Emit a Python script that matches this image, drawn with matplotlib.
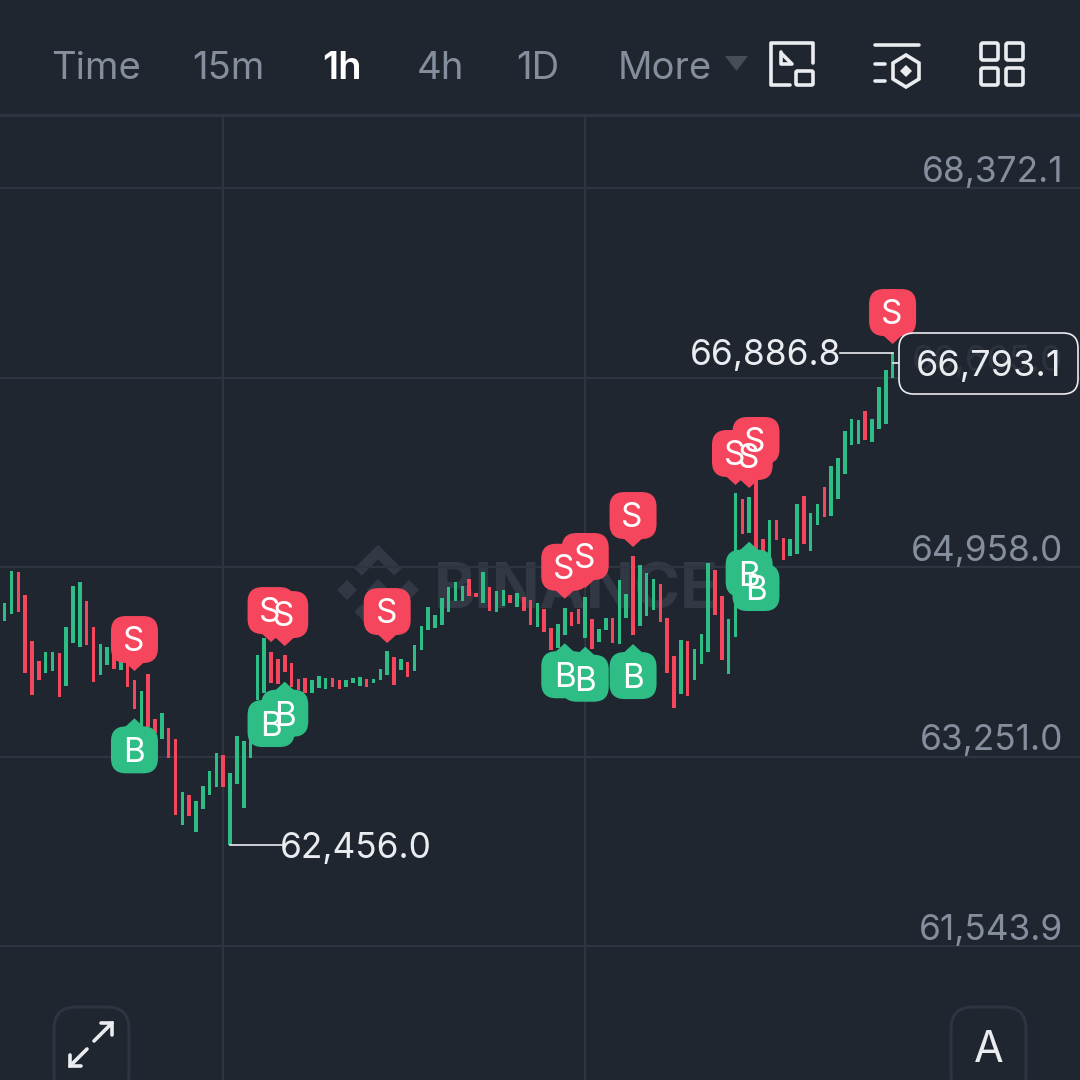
import matplotlib
matplotlib.use('Agg')
import matplotlib.pyplot as plt
from matplotlib.patches import FancyBboxPatch, Polygon, Rectangle

plt.rcParams['font.family'] = ['Inter', 'DejaVu Sans']

# candle range, one entry per 1h candle
high = [64631, 64925, 64910, 64706, 64294, 64114, 64190, 64195, 64181, 64415,
        64784, 64826, 64649, 64415, 64267, 64237, 64181, 64150, 64091, 63940,
        63841, 63994, 63586, 63646, 63508, 63406, 62928, 62904, 62853, 62983,
        63118, 63280, 63264, 63100, 63438, 63388, 63400, 64163, 64321, 64195,
        64132, 64165, 64091, 63946, 63955, 63943, 63979, 63958, 63955, 63937,
        63940, 63961, 63967, 63949, 63949, 64036, 64201, 64145, 64129, 64100,
        64253, 64424, 64600, 64528, 64679, 64781, 64820, 64787, 64847, 64721,
        64910, 64778, 64739, 64748, 64706, 64724, 64685, 64661, 64634, 64577,
        64406, 64447, 64591, 64555, 64577, 64690, 64490, 64402, 64496, 64496,
        64841, 64715, 65057, 64973, 64904, 64850, 64802, 64496, 64154, 64300,
        64289, 64217, 64352, 64997, 64931, 64694, 64492, 65622, 65571, 65586,
        65771, 65210, 65379, 65379, 65219, 65208, 65523, 65598, 65444, 65528,
        65676, 65868, 65937, 66183, 66291, 66285, 66366, 66291, 66579, 66735,
        66886.8]
low = [64474, 64535, 64555, 64000, 63808, 63937, 64006, 64021, 63784, 63886,
       64271, 64240, 64258, 63925, 63988, 64078, 64042, 64030, 63880, 63679,
       63519, 63519, 63460, 63411, 63240, 62727, 62634, 62718, 62568, 62775,
       62904, 62979, 62979, 62456, 63006, 62784, 63240, 63760, 63820, 63916,
       63901, 64015, 63880, 63850, 63826, 63826, 63865, 63862, 63874, 63859,
       63877, 63913, 63889, 63877, 63916, 63940, 63988, 63892, 64027, 63964,
       64024, 64210, 64390, 64409, 64438, 64550, 64649, 64649, 64699, 64690,
       64634, 64562, 64553, 64609, 64631, 64598, 64564, 64436, 64415, 64375,
       64210, 64226, 64348, 64427, 64445, 64318, 64217, 64282, 64393, 64276,
       64267, 64501, 64345, 64429, 64514, 64571, 64463, 64000, 63685, 63814,
       63799, 63937, 64084, 64192, 64523, 64118, 63991, 64330, 65255, 65269,
       65111, 65093, 65051, 65201, 65021, 65060, 65075, 65165, 65102, 65339,
       65411, 65415, 65568, 65796, 66060, 66069, 66105, 66081, 66201, 66249,
       66663]
direction = ('GGRRRRGGRG' 'GGRRGGRGRR' 'GRRGRRGRGG' 'GGRGGGGGGR' 'RRRRRGGGRR'
             'GGGRGGGRGR' 'GGGGGGGGRR' 'GRGGRGRRGR' 'RGGRRGRGGR' 'GGRGGGRRRG'
             'RGGGRRGGRG' 'RRGRRGGRGG' 'RGGGGGRGGGG')

sell_idx = [19, 39, 41, 56, 82, 85, 92, 107, 109, 110, 130]
sell_price = [64021, 64282, 64246, 64273, 64672, 64769, 65138, 65697, 65670, 65814, 66967]
buy_idx = [19, 39, 41, 82, 85, 92, 109, 110]
buy_price = [63595, 63832, 63925, 64271, 64240, 64264, 65186, 65057]

grid_prices = [68372.1, 66665.0, 64958.0, 63251.0, 61543.9]
grid_idx = [32, 85]
last_price = 66793.1
intervals = ['Time', '15m', '1h', '4h', '1D', 'More']
interval_x = [51, 192, 322, 417, 516, 618]

BG = '#1f2630'
GRID = '#2e3541'
GREEN = '#2ebd85'
RED = '#f6465d'
WHITE = '#eaecef'
GREY = '#848e9c'
WATER = '#323945'

fig = plt.figure(figsize=(10.8, 10.8), dpi=100, facecolor=BG)

# pixel axes under the candles (watermark), data axes, pixel axes on top (ui)
bg = fig.add_axes([0, 0, 1, 1], zorder=0)
ax = fig.add_axes([0, 0, 1, 1], zorder=1)
ui = fig.add_axes([0, 0, 1, 1], zorder=2)
for a in (bg, ui):
    a.set_xlim(0, 1080)
    a.set_ylim(1080, 0)
    a.axis('off')
bg.set_facecolor(BG)
ax.patch.set_alpha(0)
ax.set_xlim(-0.688, 157.44)
ax.set_ylim(60337, 70066)
for s in ax.spines.values():
    s.set_visible(False)
ax.set_xticks([])
ax.set_yticks([])

# watermark
for cx, cy, r in [(347, 590, 10), (409, 590, 10), (378, 590, 11)]:
    bg.add_patch(Polygon([(cx - r, cy), (cx, cy - r), (cx + r, cy), (cx, cy + r)], color=WATER, lw=0))
bg.plot([358, 378, 398], [572, 552, 572], color=WATER, lw=7.5, solid_joinstyle='miter', solid_capstyle='butt')
bg.plot([358, 378, 398], [608, 628, 608], color=WATER, lw=7.5, solid_joinstyle='miter', solid_capstyle='butt')
bg.text(434, 592, 'BINANCE', color=WATER, fontsize=45, fontweight='bold', ha='left', va='center')

# grid and price scale
for p, lab in zip(grid_prices, ['68,372.1', '66,665.0', '64,958.0', '63,251.0', '61,543.9']):
    ax.axhline(p, color=GRID, lw=1.6, zorder=1)
    ax.annotate(lab, xy=(1063 / 1080, p), xycoords=ax.get_yaxis_transform(), xytext=(0, 15 * 0.72 + 0.5),
                textcoords='offset points', ha='right', va='center', color=GREY, fontsize=25.4, zorder=1)
for i in grid_idx:
    ax.axvline(i, ymin=0, ymax=1 - 116 / 1080, color=GRID, lw=1.6, zorder=1)

# candles
colors = [GREEN if d == 'G' else RED for d in direction]
idx = list(range(len(high)))
heights = [h - l for h, l in zip(high, low)]
ax.bar(idx, heights, bottom=low, width=0.52, color=colors, lw=0, zorder=2)


def to_px(i, p):
    x, y = ax.transData.transform((i, p))
    return x, 1080 - y


def marker(i, p, kind):
    x, tip = to_px(i, p)
    col = RED if kind == 'S' else GREEN
    sign = -1 if kind == 'S' else 1
    cy = tip + sign * 31.5
    edge = tip + sign * 9
    ui.add_patch(FancyBboxPatch((x - 23.5, cy - 23.5), 47, 47, boxstyle='round,pad=0,rounding_size=15',
                                fc=col, ec='none', zorder=3))
    ui.add_patch(Polygon([(x - 12, edge + sign * 2), (x, tip), (x + 12, edge + sign * 2)], fc=col, ec='none', zorder=3))


for i, p in zip(sell_idx, sell_price):
    marker(i, p, 'S')
for i, p in zip(buy_idx, buy_price):
    marker(i, p, 'B')
for i, p in zip(sell_idx, sell_price):
    x, tip = to_px(i, p)
    ui.text(x - 1, tip - 29, 'S', color='white', fontsize=24, ha='center', va='center', zorder=4)
for i, p in zip(buy_idx, buy_price):
    x, tip = to_px(i, p)
    ui.text(x, tip + 35, 'B', color='white', fontsize=24, ha='center', va='center', zorder=4)

# high / low labels
lo_i = low.index(min(low))
hi_i = high.index(max(high))
x, y = to_px(lo_i, min(low))
ui.plot([x, 282], [y, y], color=WHITE, lw=1.2, zorder=3)
ui.text(280, y + 4, f'{min(low):,.1f}', color=WHITE, fontsize=25.4, ha='left', va='center', zorder=4)
x, y = to_px(hi_i, max(high))
ui.plot([840, x], [y, y], color=WHITE, lw=1.2, zorder=3)
ui.text(841, y + 3, f'{max(high):,.1f}', color=WHITE, fontsize=25.4, ha='right', va='center', zorder=4)

# last price box
x, y = to_px(hi_i, last_price)
ui.plot([x, 899], [y, y], color=WHITE, lw=1.2, zorder=3)
ui.add_patch(FancyBboxPatch((899, 333), 179, 61, boxstyle='round,pad=0,rounding_size=15',
                            fc=(0x1f / 255, 0x26 / 255, 0x30 / 255, 0.87), ec=WHITE, lw=1.2, zorder=5))
ui.text(1061, y + 3, f'{last_price:,.1f}', color=WHITE, fontsize=26, ha='right', va='center', zorder=6)

# header
ui.add_patch(Rectangle((0, 0), 1080, 115, fc=BG, ec='none', zorder=1))
ui.plot([0, 1080], [115, 115], color=GRID, lw=2.2, zorder=2)
for lab, tx in zip(intervals, interval_x):
    active = lab == '1h'
    ui.text(tx, 79, lab, color='white' if active else GREY, fontsize=27.5,
            fontweight='semibold' if active else 'normal', ha='left', va='baseline', zorder=3)
ui.add_patch(Polygon([(725, 56), (748, 56), (736.5, 71)], fc='#474d57', ec='none', zorder=3))

# header icons
kw = dict(color=WHITE, lw=2.6, solid_capstyle='round', solid_joinstyle='round', zorder=3)
ui.plot([813, 813, 771, 771, 790], [63, 43, 43, 85, 85], **kw)
ui.plot([781, 781, 792], [52, 64, 64], **kw)
ui.plot([782, 791], [54, 63], **kw)
ui.add_patch(FancyBboxPatch((796, 71), 17, 14, boxstyle='round,pad=0,rounding_size=1.5', fc='none', ec=WHITE, lw=2.6, zorder=3))
ui.plot([875, 919], [45, 45], **kw)
ui.plot([875, 885], [64, 64], **kw)
ui.plot([875, 885], [81, 81], **kw)
ui.add_patch(Polygon([(906, 55), (919, 63), (919, 79), (906, 87), (893, 79), (893, 63)], fc='none', ec=WHITE, lw=2.6, zorder=3))
ui.add_patch(Polygon([(906, 65), (912, 71), (906, 77), (900, 71)], fc=WHITE, ec='none', zorder=3))
for sx in (981, 1006):
    for sy in (43, 68):
        ui.add_patch(FancyBboxPatch((sx, sy), 17, 17, boxstyle='round,pad=0,rounding_size=2', fc='none', ec=WHITE, lw=2.6, zorder=3))

# bottom buttons
for bx in (54, 951):
    ui.add_patch(FancyBboxPatch((bx, 1007), 75, 90, boxstyle='round,pad=0,rounding_size=22', fc=BG, ec=GRID, lw=2.2, zorder=3))
kw2 = dict(color=WHITE, lw=2.6, solid_capstyle='round', solid_joinstyle='miter', zorder=4)
ui.plot([94, 112], [1041, 1023], **kw2)
ui.plot([101, 112, 112], [1023, 1023, 1035], **kw2)
ui.plot([87, 70], [1049, 1066], **kw2)
ui.plot([70, 70, 81], [1055, 1066, 1066], **kw2)
ui.text(989, 1051, 'A', color=WHITE, fontsize=31, ha='center', va='center', zorder=4)

fig.savefig('out.png', dpi=100, facecolor=BG)
